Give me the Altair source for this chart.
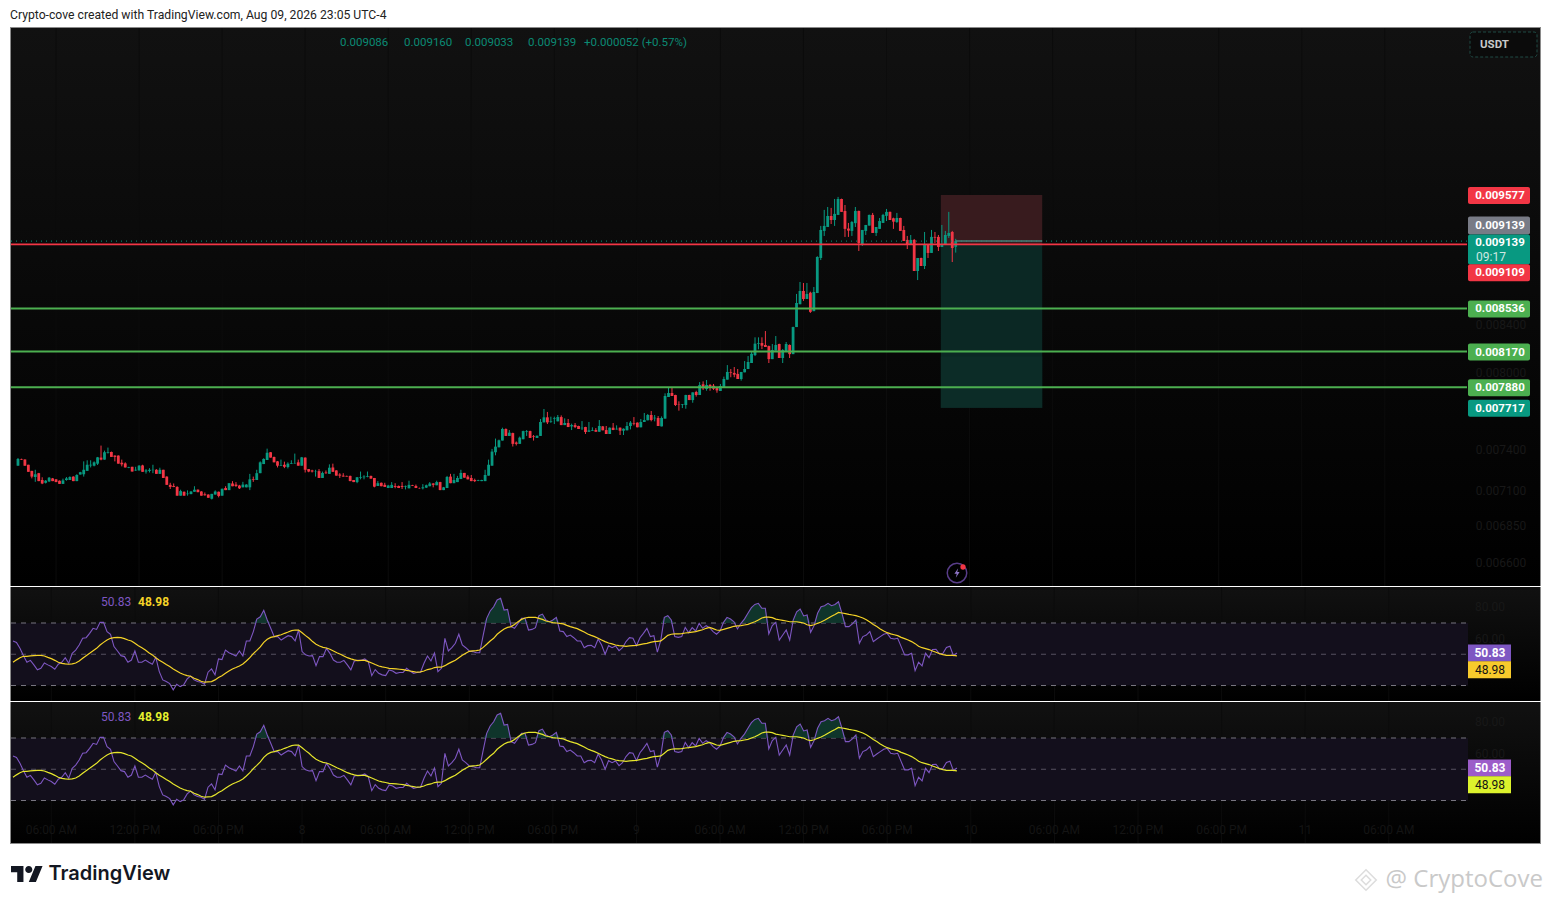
import altair as alt
import pandas as pd

# ---- candle values, millionths of USDT, one entry per 15-minute bar ----
opens = [
7277,7327,7322,7284,7239,7194,7222,7172,7152,7162,7184,7177,7167,7144,7172,7172,7197,7164,7212,7214,
7239,7279,7277,7292,7337,7322,7372,7379,7352,7352,7299,7294,7262,7269,7242,7242,7279,7234,7239,7244,
7247,7217,7247,7197,7137,7129,7122,7059,7087,7070,7070,7087,7102,7089,7069,7067,7037,7067,7087,7059,
7114,7099,7147,7139,7132,7119,7119,7119,7179,7172,7222,7289,7319,7377,7342,7309,7277,7284,7267,7292,
7294,7302,7277,7337,7252,7242,7232,7237,7187,7227,7217,7264,7242,7212,7204,7202,7202,7172,7157,7189,
7192,7194,7202,7187,7129,7152,7137,7114,7114,7129,7129,7129,7124,7112,7134,7129,7114,7112,7117,7127,
7147,7134,7157,7099,7114,7197,7149,7157,7179,7224,7197,7187,7172,7167,7164,7164,7204,7277,7377,7414,
7465,7553,7500,7522,7450,7440,7475,7532,7537,7497,7485,7500,7604,7643,7607,7630,7612,7645,7583,7599,
7573,7583,7576,7558,7568,7532,7540,7545,7532,7573,7545,7515,7563,7550,7563,7540,7543,7576,7599,7602,
7566,7607,7620,7661,7635,7638,7573,7633,7802,7834,7818,7744,7739,7739,7818,7778,7842,7818,7903,7866,
7898,7892,7873,7850,7876,7941,8003,7995,7987,7946,8000,8027,8076,8141,8233,8241,8225,8216,8108,8178,
8233,8117,8175,8225,8149,8376,8572,8688,8618,8673,8512,8670,8984,9234,9271,9375,9337,9385,9538,9423,
9256,9234,9307,9423,9103,9234,9284,9385,9215,9253,9309,9376,9414,9353,9318,9356,9243,9150,9103,9150,
8866,8984,8911,9103,9030,9178,9178,9085,9103,9187,9224,9086]
highs = [
7334,7329,7324,7284,7239,7247,7224,7192,7172,7194,7187,7179,7169,7182,7194,7199,7199,7214,7232,7309,
7317,7317,7309,7342,7427,7389,7412,7382,7354,7354,7322,7302,7269,7269,7269,7282,7284,7252,7259,7284,
7252,7262,7247,7199,7152,7147,7127,7102,7089,7097,7092,7127,7104,7092,7082,7069,7072,7097,7089,7109,
7127,7149,7164,7157,7137,7159,7142,7217,7197,7247,7309,7332,7404,7379,7344,7312,7322,7307,7302,7317,
7367,7322,7342,7339,7252,7247,7247,7252,7234,7242,7287,7292,7244,7222,7222,7204,7204,7172,7194,7234,
7207,7234,7204,7187,7164,7154,7152,7137,7157,7149,7132,7157,7132,7167,7137,7139,7117,7142,7139,7157,
7149,7167,7159,7122,7202,7217,7217,7202,7247,7224,7209,7209,7182,7174,7174,7247,7322,7402,7480,7472,
7563,7558,7545,7525,7458,7495,7540,7545,7540,7507,7502,7630,7708,7685,7648,7648,7661,7658,7635,7630,
7594,7599,7578,7614,7570,7607,7566,7560,7622,7576,7576,7565,7599,7581,7565,7558,7607,7614,7645,7604,
7630,7677,7669,7692,7661,7653,7650,7831,7879,7874,7820,7768,7747,7820,7820,7839,7852,7921,7927,7938,
7906,7906,7876,7906,7965,8059,8027,8043,8027,8003,8092,8133,8166,8289,8289,8289,8342,8220,8233,8300,
8236,8191,8250,8230,8379,8662,8768,8759,8759,8682,8723,9000,9281,9433,9461,9452,9538,9558,9541,9480,
9309,9327,9461,9426,9243,9290,9388,9404,9271,9356,9395,9442,9417,9359,9404,9359,9281,9187,9196,9159,
8984,8987,9224,9106,9243,9224,9196,9290,9234,9414,9234,9160]
lows = [
7277,7319,7277,7232,7184,7159,7164,7142,7147,7157,7164,7157,7144,7144,7167,7172,7164,7164,7212,7197,
7239,7264,7272,7282,7317,7322,7367,7342,7309,7292,7272,7264,7259,7234,7239,7242,7232,7219,7227,7222,
7217,7217,7187,7137,7107,7120,7059,7059,7059,7059,7070,7087,7084,7059,7059,7044,7032,7067,7047,7059,
7099,7099,7127,7122,7107,7119,7119,7099,7159,7172,7222,7289,7319,7337,7302,7264,7277,7259,7257,7289,
7292,7277,7277,7227,7229,7227,7197,7187,7187,7217,7217,7232,7204,7187,7197,7197,7164,7157,7149,7177,
7177,7192,7182,7119,7129,7127,7122,7114,7114,7112,7114,7107,7104,7112,7129,7114,7109,7104,7114,7127,
7119,7134,7099,7099,7114,7149,7149,7157,7179,7189,7177,7164,7157,7164,7164,7164,7204,7277,7354,7414,
7465,7500,7500,7420,7428,7440,7475,7500,7485,7465,7485,7500,7604,7591,7600,7591,7612,7583,7583,7568,
7545,7560,7553,7545,7515,7532,7538,7532,7532,7543,7515,7515,7545,7548,7507,7507,7543,7550,7581,7566,
7566,7607,7620,7612,7612,7576,7573,7633,7802,7810,7731,7695,7715,7710,7778,7757,7805,7818,7858,7852,
7852,7858,7836,7850,7876,7941,7960,7960,7946,7933,8000,8027,8076,8133,8189,8191,8208,8076,8108,8178,
8117,8076,8175,8117,8149,8376,8572,8601,8618,8497,8512,8670,8965,9187,9271,9299,9281,9385,9414,9178,
9178,9187,9271,9048,9094,9196,9284,9215,9187,9253,9309,9327,9337,9253,9309,9234,9140,9066,9103,8866,
8785,8911,8884,8984,9030,9121,9048,9085,9103,9168,8947,9033]
closes = [
7327,7322,7277,7232,7197,7214,7164,7147,7167,7189,7164,7157,7144,7169,7184,7194,7164,7209,7229,7247,
7284,7284,7302,7339,7322,7377,7377,7342,7342,7292,7287,7264,7267,7234,7247,7277,7232,7242,7247,7247,
7217,7247,7187,7137,7122,7122,7059,7092,7059,7074,7089,7102,7084,7059,7062,7044,7072,7089,7057,7109,
7099,7149,7127,7129,7112,7139,7139,7177,7174,7222,7302,7327,7374,7337,7302,7277,7282,7269,7292,7297,
7297,7277,7339,7247,7234,7234,7234,7187,7224,7222,7262,7232,7204,7204,7197,7197,7164,7157,7192,7194,
7197,7199,7182,7124,7149,7127,7122,7132,7137,7122,7114,7122,7129,7137,7129,7114,7112,7119,7134,7147,
7137,7157,7099,7119,7194,7149,7172,7187,7224,7189,7177,7164,7164,7172,7172,7209,7284,7382,7419,7467,
7553,7500,7525,7440,7440,7487,7537,7537,7485,7492,7502,7607,7643,7604,7612,7635,7645,7583,7599,7568,
7583,7568,7553,7563,7530,7542,7545,7532,7576,7543,7515,7563,7545,7555,7540,7555,7576,7602,7594,7566,
7607,7622,7661,7622,7640,7576,7638,7810,7834,7810,7739,7741,7744,7818,7778,7839,7818,7898,7871,7898,
7884,7868,7855,7890,7946,8003,7997,7981,7946,8003,8027,8084,8152,8236,8239,8219,8208,8108,8183,8225,
8117,8183,8233,8149,8376,8583,8688,8618,8662,8506,8679,8993,9243,9281,9375,9337,9395,9538,9414,9253,
9237,9318,9423,9121,9243,9290,9385,9215,9271,9327,9385,9414,9337,9321,9356,9234,9140,9103,9150,8866,
8984,8911,9103,9030,9178,9171,9085,9103,9196,9215,9075,9139]

# ---- RSI and its moving average ----
rsi_values = [
58.5,57.6,53.8,49.1,44.9,46.1,43.2,40.0,41.0,44.4,43.2,42.1,40.4,43.6,44.9,47.8,44.2,50.6,52.7,55.9,
60.2,60.6,63.4,66.6,65.9,70.4,70.4,64.5,62.8,54.9,52.1,49.1,48.5,44.9,46.3,52.1,44.9,44.9,46.3,44.9,
43.6,48.0,38.9,33.6,32.5,31.2,27.2,30.8,29.3,30.4,34.2,36.1,33.6,32.5,32.1,30.8,38.5,40.6,36.8,47.0,
46.6,52.7,51.0,50.0,48.9,52.1,48.9,58.5,58.5,64.5,72.5,74.0,78.1,71.9,66.6,61.3,61.3,59.1,60.6,61.9,
61.3,58.5,65.5,51.7,49.6,48.9,49.1,42.7,48.5,48.5,53.8,50.6,46.3,44.9,44.9,46.1,43.2,40.0,45.7,46.1,
46.1,47.0,45.3,36.3,40.2,37.8,36.8,36.3,40.0,39.3,37.8,38.3,38.3,41.0,39.3,37.8,38.3,38.5,44.2,48.9,
45.7,50.8,38.9,41.0,60.2,52.1,54.2,57.0,62.8,55.9,54.2,52.1,51.7,51.0,51.0,62.3,73.0,77.7,80.4,84.7,
85.8,78.3,78.7,67.7,66.6,69.8,73.0,73.0,65.5,65.9,67.0,74.7,75.7,71.9,70.8,71.9,73.6,64.9,64.5,61.3,
62.3,60.6,58.5,58.5,54.2,55.5,55.7,54.2,59.8,55.9,50.0,55.5,54.2,55.3,52.3,54.2,58.1,60.6,60.2,55.5,
60.6,63.4,66.6,61.3,61.9,51.3,59.1,73.6,74.7,71.9,61.3,60.8,61.3,67.2,63.8,67.0,64.9,69.8,66.6,68.3,
67.0,64.5,62.8,64.9,70.4,73.6,72.5,70.8,66.2,69.8,72.5,76.2,79.8,81.9,82.6,79.4,79.4,63.0,68.3,70.4,
59.1,62.3,65.5,59.1,71.9,77.2,78.9,74.5,75.1,64.0,68.3,76.2,80.4,81.1,82.6,81.1,81.9,83.6,76.2,67.7,
67.7,69.4,71.9,57.0,61.3,62.3,64.5,58.1,59.8,61.3,62.8,63.4,60.2,59.8,60.2,54.9,49.6,49.6,50.6,39.5,
44.9,42.5,50.6,47.8,53.0,53.2,50.2,50.6,54.4,55.1,49.1,50.83]
rsi_ma = [
44.9,46.4,47.8,48.7,48.7,48.9,49.1,49.3,49.3,48.9,48.0,47.2,46.1,44.9,44.2,43.8,43.6,43.8,44.4,45.7,
47.4,49.1,50.6,52.3,53.8,55.9,57.6,59.1,60.2,60.6,60.8,60.6,60.0,59.1,58.5,57.0,55.5,54.2,52.7,51.0,
49.6,47.8,46.1,44.9,43.4,42.1,40.6,39.3,38.0,37.0,36.3,35.9,34.6,33.8,32.7,32.1,32.3,32.5,33.6,35.1,
36.3,37.8,39.3,40.6,41.5,42.5,43.8,45.7,47.8,50.4,52.5,54.7,57.6,59.6,60.8,61.3,61.9,62.5,63.4,64.2,
65.1,65.5,65.5,63.8,61.9,60.2,58.1,56.4,55.3,54.4,54.0,53.2,52.1,51.0,50.0,48.9,47.8,47.0,46.4,45.9,
46.1,46.1,45.3,44.4,43.4,42.5,41.9,41.5,41.0,40.8,40.6,40.4,40.2,39.7,39.3,38.9,38.5,38.7,39.3,40.2,
40.6,41.5,41.7,41.7,42.7,44.0,45.1,46.1,47.8,49.3,50.6,51.9,52.1,52.3,52.7,54.4,56.4,58.5,60.2,62.8,
64.5,66.2,67.2,67.7,69.1,70.8,72.3,73.2,73.6,73.6,73.6,73.0,72.3,71.3,70.8,70.2,70.0,69.8,69.4,68.5,
67.7,67.0,66.4,65.3,64.2,63.0,62.1,61.3,60.2,59.1,58.1,57.2,56.6,55.9,55.5,55.3,55.1,55.3,55.5,55.7,
56.2,56.6,57.0,57.6,58.1,58.3,58.5,60.2,62.1,62.8,63.0,63.0,63.2,63.6,63.8,64.2,64.5,65.1,65.7,66.6,
67.2,66.4,65.5,65.3,65.9,66.6,67.2,67.9,68.1,68.3,68.7,69.1,70.0,70.8,71.9,73.2,73.8,73.8,73.4,72.5,
72.1,71.7,71.3,70.8,70.8,70.8,70.4,70.0,68.9,68.3,68.9,69.8,70.6,71.7,73.0,74.3,75.5,76.8,76.4,76.0,
75.5,75.1,74.7,74.0,73.2,72.1,70.6,69.1,67.7,66.2,64.9,63.8,63.0,62.5,61.9,60.8,60.0,59.1,58.1,56.8,
55.1,54.2,53.6,53.0,52.1,51.3,50.4,49.8,49.3,49.3,49.3,48.98]

# ---- levels and labels ----
resistance_levels = [8536, 8170, 7880]
entry_price = 9109
last_price = 9139
stop_price = 9577
target_price = 7717
faint_price_ticks = [8400, 8000, 7400, 7100, 6850, 6600]
time_tick_bars = [11, 35, 59, 83, 107, 131, 155, 179, 203, 227, 251, 275, 299, 323, 347, 371, 395]
time_tick_labels = ["06:00 AM", "12:00 PM", "06:00 PM", "8", "06:00 AM", "12:00 PM", "06:00 PM", "9",
                    "06:00 AM", "12:00 PM", "06:00 PM", "10", "06:00 AM", "12:00 PM", "06:00 PM", "11", "06:00 AM"]
header_text = "Crypto-cove created with TradingView.com, Aug 09, 2026 23:05 UTC-4"
ohlc_texts = ["0.009086", "0.009160", "0.009033", "0.009139", "+0.000052 (+0.57%)"]
rsi_last, ma_last = 50.83, 48.98

# ---- layout and style ----
FONT = "Roboto"
WIDTH = 1531
PLOT_W = 1457
MAIN_H, RSI1_H, RSI2_H = 559, 114, 142
UP, DOWN = "#089981", "#f23645"
GREEN = "#4caf50"
BORDER = "#8a8a8a"
FAINT = "#181818"
XS = alt.Scale(domain=[-0.861, 438.7], nice=False, zero=False)
YS = alt.Scale(type="log", domain=[0.006441, 0.011356], nice=False, zero=False)

candles = pd.DataFrame({
    "bar": range(len(opens)),
    "open": [v / 1e6 for v in opens], "high": [v / 1e6 for v in highs],
    "low": [v / 1e6 for v in lows], "close": [v / 1e6 for v in closes],
    "dir": ["up" if c >= o else "down" for o, c in zip(opens, closes)],
})
osc = pd.DataFrame({
    "bar": range(len(rsi_values)), "rsi": rsi_values, "ma": rsi_ma,
    "over": [max(v, 70) for v in rsi_values], "base": [70] * len(rsi_values),
})
one = pd.DataFrame({"a": [0]})
ticks = pd.DataFrame({"bar": time_tick_bars, "label": time_tick_labels})
dir_color = alt.Color("dir:N", scale=alt.Scale(domain=["up", "down"], range=[UP, DOWN]), legend=None)


def gradient(top):
    return alt.LinearGradient(gradient="linear", x1=0, x2=0, y1=0, y2=1,
                              stops=[alt.GradientStop(color=top, offset=0),
                                     alt.GradientStop(color="#000000", offset=1)])


def background(h):
    return alt.Chart(one).mark_rect(color=gradient("#111111")).encode(
        x=alt.value(0), x2=alt.value(WIDTH), y=alt.value(0), y2=alt.value(h))


def vline(x, h, y0=0):
    return alt.Chart(one).mark_rule(color=BORDER, strokeWidth=1).encode(
        x=alt.value(x), y=alt.value(y0), y2=alt.value(h))


def hline(y, color=BORDER):
    return alt.Chart(one).mark_rule(color=color, strokeWidth=1).encode(
        x=alt.value(0), x2=alt.value(WIDTH), y=alt.value(y))


def grid():
    return alt.Chart(ticks).mark_rule(color="#0c0c0c", strokeWidth=1).encode(
        x=alt.X("bar:Q", scale=XS, axis=None))


def label(text, x, y, color, size=12, weight="normal", align="left", font=FONT, opacity=1):
    return alt.Chart(pd.DataFrame({"t": [text]})).mark_text(
        color=color, fontSize=size, fontWeight=weight, align=align, baseline="middle",
        font=font, opacity=opacity).encode(x=alt.value(x), y=alt.value(y), text="t:N")


def price_rect(y, y2, color):
    df = pd.DataFrame({"a": [266.7], "b": [296.0], "y": [y / 1e6], "y2": [y2 / 1e6]})
    return alt.Chart(df).mark_rect(color=color).encode(
        x=alt.X("a:Q", scale=XS, axis=None), x2="b:Q",
        y=alt.Y("y:Q", scale=YS, axis=None), y2="y2:Q")


def level_line(price, color, width=2, dash=None, x2=PLOT_W):
    kw = {"strokeDash": dash} if dash else {}
    return alt.Chart(pd.DataFrame({"p": [price / 1e6]})).mark_rule(color=color, strokeWidth=width, **kw).encode(
        x=alt.value(1), x2=alt.value(x2), y=alt.Y("p:Q", scale=YS, axis=None))


def price_tag(text, price, fill, h=17, shift=0, sub=None):
    df = pd.DataFrame({"p": [price / 1e6], "t": [text]})
    base = alt.Chart(df)
    y = alt.Y("p:Q", scale=YS, axis=None)
    parts = [
        base.mark_rect(color=fill, height=h, yOffset=shift + 0.5, cornerRadius=2).encode(
            x=alt.value(1458), x2=alt.value(1520), y=y),
        base.mark_text(color="#ffffff", fontSize=11.5, fontWeight="bold", font=FONT, baseline="middle",
                       align="center", dy=shift + 1 - (7 if sub else 0)).encode(
            x=alt.value(1490), y=y, text="t:N"),
    ]
    if sub:
        parts.append(alt.Chart(pd.DataFrame({"p": [price / 1e6], "t": [sub]})).mark_text(
            color="#cfe8e2", fontSize=12, font=FONT, baseline="middle", align="left", dy=shift + 7.5).encode(
            x=alt.value(1466), y=y, text="t:N"))
    return parts


# ---- main price pane ----
wicks = alt.Chart(candles).mark_rule(strokeWidth=1).encode(
    x=alt.X("bar:Q", scale=XS, axis=None),
    y=alt.Y("low:Q", scale=YS, axis=None), y2="high:Q", color=dir_color)
bodies = alt.Chart(candles).mark_bar(size=2.8).encode(
    x=alt.X("bar:Q", scale=XS, axis=None),
    y=alt.Y("open:Q", scale=YS, axis=None), y2="close:Q", color=dir_color)
faint_prices = alt.Chart(pd.DataFrame({
    "p": [v / 1e6 for v in faint_price_ticks], "t": [f"{v / 1e6:.6f}" for v in faint_price_ticks]
})).mark_text(color=FAINT, fontSize=12, font=FONT, align="center", baseline="middle", dy=1).encode(
    x=alt.value(1491), y=alt.Y("p:Q", scale=YS, axis=None), text="t:N")

ohlc_x = [330, 394, 455, 518, 574]
layers = [background(MAIN_H), grid(), faint_prices,
          price_rect(stop_price, entry_price, "#381b1e"),
          price_rect(entry_price, target_price, "#0b2824"),
          price_rect(8130, target_price, "#0c2c27"),
          wicks, bodies]
layers += [level_line(v, GREEN) for v in resistance_levels]
layers += [level_line(last_price, UP, 1, [1, 4]),
           level_line(entry_price, DOWN, 1.6)]
layers += [alt.Chart(pd.DataFrame({"a": [271.0], "b": [296.0], "p": [last_price / 1e6]})).mark_rule(
    color="#4a7f78", strokeWidth=1.5).encode(
    x=alt.X("a:Q", scale=XS, axis=None), x2="b:Q", y=alt.Y("p:Q", scale=YS, axis=None))]
layers += price_tag("0.009577", stop_price, DOWN)
layers += price_tag("0.009139", last_price, "#787b86", h=18, shift=-16)
layers += price_tag("0.009139", last_price, UP, h=30, shift=8, sub="09:17")
layers += price_tag("0.009109", entry_price, DOWN, h=17, shift=28)
layers += price_tag("0.008536", 8536, GREEN)
layers += price_tag("0.008170", 8170, GREEN)
layers += price_tag("0.007880", 7880, GREEN)
layers += price_tag("0.007717", target_price, UP)
layers += [label(t, x, 15.5, "#0b8a74", 11.5) for t, x in zip(ohlc_texts, ohlc_x)]
layers += [
    alt.Chart(one).mark_rect(fill="#0b0b0b", stroke="#1f4a44", strokeDash=[3, 2], strokeWidth=1, cornerRadius=3).encode(
        x=alt.value(1460), x2=alt.value(1527), y=alt.value(5), y2=alt.value(30)),
    label("USDT", 1470, 18, "#c9c9c9", 11.5, "bold"),
    # alert icon near the axis
    alt.Chart(one).mark_point(shape="circle", size=380, color="#7e57c2", strokeWidth=1.5, filled=False).encode(
        x=alt.value(947), y=alt.value(546)),
    alt.Chart(one).mark_point(shape="M 0.25 -1 L -0.55 0.15 L -0.05 0.15 L -0.25 1 L 0.55 -0.2 L 0.05 -0.2 Z",
                              size=90, color="#8f75c8", filled=True, opacity=1).encode(
        x=alt.value(947), y=alt.value(546)),
    alt.Chart(one).mark_point(shape="circle", size=28, color=DOWN, filled=True, opacity=1).encode(
        x=alt.value(953), y=alt.value(540)),
    hline(0.5), vline(0.5, MAIN_H), vline(WIDTH - 0.5, MAIN_H),
]
main = alt.layer(*layers).properties(width=WIDTH, height=MAIN_H)


# ---- RSI panes ----
def rsi_pane(h, domain, ma_line, ma_box, ma_text, purple_box, last=False):
    ys = alt.Scale(domain=domain, nice=False, zero=False)
    y_enc = lambda f: alt.Y(f, scale=ys, axis=None)
    band = alt.Chart(pd.DataFrame({"a": [70], "b": [30]})).mark_rect(color="#130f1c").encode(
        x=alt.value(1), x2=alt.value(PLOT_W + 1), y=y_enc("a:Q"), y2="b:Q")

    def guide(v, color):
        return alt.Chart(pd.DataFrame({"v": [v]})).mark_rule(
            color=color, strokeWidth=1, strokeDash=[5, 5]).encode(
            x=alt.value(1), x2=alt.value(PLOT_W + 1), y=y_enc("v:Q"))

    area = alt.Chart(osc).mark_area(color="#0f3a2f", opacity=0.9).encode(
        x=alt.X("bar:Q", scale=XS, axis=None), y=y_enc("over:Q"), y2="base:Q")
    purple = alt.Chart(osc).mark_line(color="#7e57c2", strokeWidth=1.1).encode(
        x=alt.X("bar:Q", scale=XS, axis=None), y=y_enc("rsi:Q"))
    yellow = alt.Chart(osc).mark_line(color=ma_line, strokeWidth=1.2).encode(
        x=alt.X("bar:Q", scale=XS, axis=None), y=y_enc("ma:Q"))
    faint = alt.Chart(pd.DataFrame({"v": [80, 60], "t": ["80.00", "60.00"]})).mark_text(
        color=FAINT, fontSize=12, font=FONT, align="center", baseline="middle").encode(
        x=alt.value(1480), y=y_enc("v:Q"), text="t:N")

    def tag(val, fill, text_color, weight, shift):
        df = pd.DataFrame({"v": [val], "t": [f"{val:.2f}"]})
        return [alt.Chart(df).mark_rect(color=fill, height=17, yOffset=shift).encode(
                    x=alt.value(1458), x2=alt.value(1501), y=y_enc("v:Q")),
                alt.Chart(df).mark_text(color=text_color, fontSize=12, fontWeight=weight, font=FONT,
                                        baseline="middle", align="center", dy=shift).encode(
                    x=alt.value(1480), y=y_enc("v:Q"), text="t:N")]

    parts = [background(h), grid(), faint, band, guide(70, "#77757f"), guide(50, "#55505f"), guide(30, "#77757f"),
             area, purple, yellow]
    parts += tag(rsi_last, purple_box, "#ffffff", "bold", 0)
    parts += tag(ma_last, ma_box, "#131313", "normal", 14)
    parts += [label(f"{rsi_last:.2f}", 91, 15, "#7e57c2", 12),
              label(f"{ma_last:.2f}", 128, 15, ma_text, 12, "bold"),
              vline(0.5, h), vline(WIDTH - 0.5, h)]
    if last:
        tick_text = alt.Chart(ticks).mark_text(color="#141414", fontSize=12, font=FONT,
                                               align="center", baseline="middle").encode(
            x=alt.X("bar:Q", scale=XS, axis=None), y=alt.value(128), text="label:N")
        parts += [tick_text, hline(h - 0.5)]
    return alt.layer(*parts).properties(width=WIDTH, height=h)


rsi1 = rsi_pane(RSI1_H, [20.08, 93.04], "#f5d327", "#f7ca2c", "#f5d327", "#7e57c2")
rsi2 = rsi_pane(RSI2_H, [2.16, 93.04], "#e6e62c", "#dcf22c", "#e6f02e", "#9c5cc9", last=True)

# ---- header and footer strips ----
header = label(header_text, 0, 6.5, "#222222", 12.2).properties(width=1533, height=18)

logo_path = ("M -0.222 0.5 H -0.611 V -0.111 H -1 V -0.5 H -0.222 Z "
             "M 0.556 0.5 H 0.111 L 0.528 -0.5 H 0.972 Z "
             "M -0.111 -0.278 A 0.222 0.222 0 1 0 0.333 -0.278 A 0.222 0.222 0 1 0 -0.111 -0.278 Z")
footer = alt.layer(
    alt.Chart(one).mark_point(shape=logo_path, size=1024, color="#131722", filled=True, opacity=1).encode(
        x=alt.value(17), y=alt.value(29)),
    label("TradingView", 38.5, 28.5, "#131722", 20, 600, font="Inter"),
    alt.Chart(one).mark_point(shape="diamond", size=420, color="#cfcfcf", filled=False, strokeWidth=1.5).encode(
        x=alt.value(1356), y=alt.value(35)),
    alt.Chart(one).mark_point(shape="diamond", size=90, color="#cfcfcf", filled=False, strokeWidth=1.5).encode(
        x=alt.value(1356), y=alt.value(35)),
    label("@ CryptoCove", 1533, 35, "#c9c9c9", 24, align="right", font="Open Sans"),
).properties(width=1533, height=51)

chart = alt.vconcat(header, main, rsi1, rsi2, footer, spacing=1, bounds="flush").properties(
    padding={"left": 1, "top": 0, "right": 0, "bottom": 0}, background="#ffffff"
).configure_view(stroke=None)

chart.save("out.html", embed_options={"renderer": "svg", "actions": False})
